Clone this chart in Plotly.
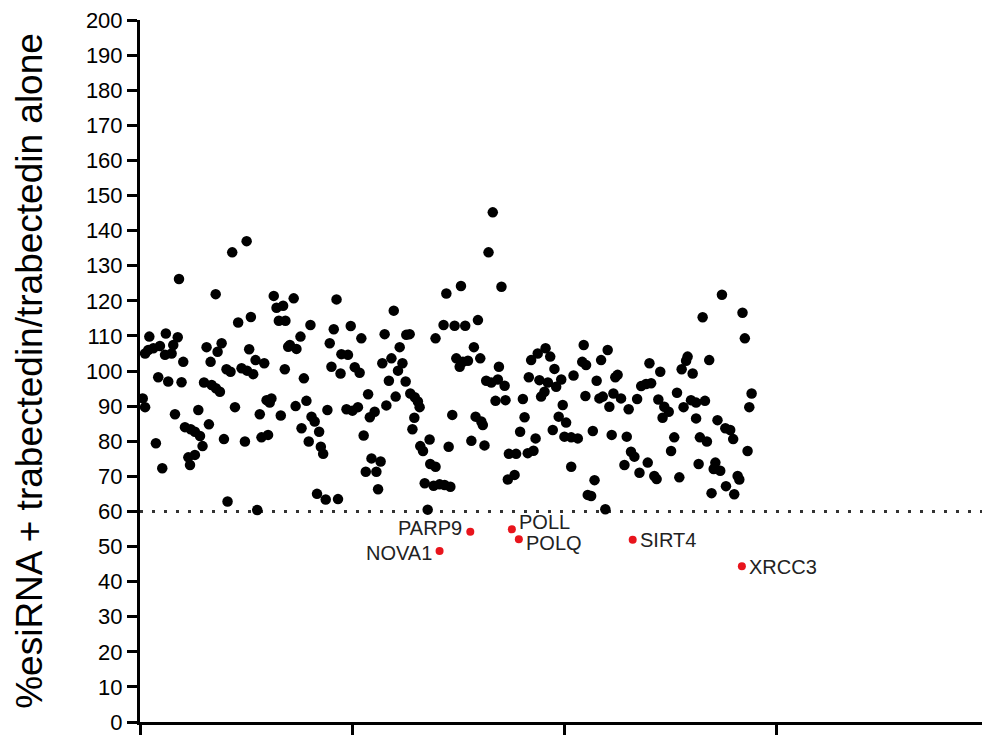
import plotly.graph_objects as go

# ---- data (gene index vs. % esiRNA + trabectedin / trabectedin alone) ----
x_vals = [
    50.3, 43.5, 18.4, 35.7, 63.1, 64.4, 67.5, 52.3, 46.3, 65.5, 68.6, 12.2, 4.4, 17.8, 3.9, 6.3,
    9.4, 2.4, 11.8, 14.9, 15.7, 20.4, 31.4, 38.5, 36.6, 33.3, 51.5, 54.5, 58.6, 69.9, 40.8, 42.7,
    47.9, 50.5, 53.4, 68.3, 8.6, 13.3, 19.6, 30.2, 33.8, 35.8, 37.7, 59.7, 62.0, 61.2, 1.3, 2.4,
    44.8, 27.5, 16.5, 56.5, 66.4, 32.5, 21.2, 23.9, 25.9, 28.3, 57.3, 60.4, 39.6, 49.5, 7.5, 29.5,
    22.8, 25.9, 23.6, 10.5, 41.3, 55.3, 72.5, 92.7, 119.7, 80.4, 91.4, 99.4, 115.4, 125.6, 127.2,
    139.4, 75.7, 104.4, 89.5, 70.7, 73.8, 122.5, 95.0, 98.1, 118.6, 114.3, 123.8, 121.7, 90.3, 94.6,
    101.3, 103.6, 77.3, 117.4, 125.3, 107.6, 120.6, 127.5, 129.6, 131.1, 131.9, 78.5, 73.4, 116.2,
    97.4, 100.2, 102.8, 88.4, 110.7, 108.4, 80.9, 82.4, 84.5, 76.2, 129.4, 128.5, 105.5, 136.6,
    79.6, 85.3, 86.4, 132.2, 133.5, 109.2, 113.5, 106.5, 111.5, 136.9, 139.4, 134.3, 138.5, 112.3,
    83.5, 87.6, 93.4, 135.7, 166.4, 164.4, 151.4, 144.5, 170.5, 159.4, 143.2, 148.4, 153.4, 157.5,
    149.2, 150.8, 152.3, 154.7, 160.5, 169.3, 163.3, 165.7, 168.8, 172.0, 167.7, 172.4, 180.6,
    184.5, 187.6, 191.3, 193.5, 209.3, 195.5, 183.4, 188.4, 192.4, 196.3, 198.7, 204.5, 190.8,
    189.2, 208.6, 210.4, 210.1, 199.4, 147.3, 181.4, 158.3, 161.0, 161.7, 197.5, 201.0, 194.7,
    179.3, 200.2, 203.4, 206.5, 186.6, 156.3, 162.5, 145.6, 174.0, 177.4, 182.9, 185.6, 203.4,
    173.5, 176.7, 141.3, 143.7, 146.4, 211.2, 274.5, 284.2, 265.4, 285.3, 220.6, 217.5, 258.3,
    257.6, 268.5, 240.3, 245.4, 255.5, 260.7, 225.3, 224.2, 215.4, 236.4, 238.7, 241.1, 253.3,
    288.5, 216.7, 218.3, 223.3, 226.9, 221.4, 230.5, 234.5, 244.5, 247.3, 249.4, 246.5, 256.4,
    259.9, 262.3, 266.5, 287.4, 262.3, 272.4, 276.1, 278.4, 279.8, 213.6, 222.5, 229.6, 252.0,
    264.1, 267.4, 250.5, 231.6, 233.2, 286.6, 228.5, 239.5, 235.6, 263.5, 271.4, 270.6, 273.7,
    242.6, 243.7, 254.4, 281.9, 282.7, 276.4, 214.4, 212.8, 269.6, 280.3, 219.5,
]
y_vals = [
    137.0, 133.8, 126.2, 121.9, 121.4, 118.0, 118.6, 115.4, 113.8, 114.3, 114.3, 110.7, 109.8, 109.6,
    106.0, 106.5, 107.1, 105.0, 104.6, 105.0, 107.4, 102.6, 106.8, 107.9, 105.5, 102.6, 106.2, 103.1,
    102.2, 106.9, 100.5, 99.8, 100.8, 100.1, 99.1, 100.5, 98.2, 97.0, 96.8, 96.7, 96.0, 95.1, 94.1,
    91.7, 92.2, 91.0, 92.2, 89.7, 89.7, 88.9, 87.7, 87.7, 87.3, 84.8, 84.0, 83.4, 82.7, 81.5, 81.1,
    81.8, 80.6, 79.9, 79.4, 78.6, 75.4, 76.1, 73.2, 72.3, 62.8, 60.4, 120.7, 120.4, 117.2, 113.1,
    111.9, 112.8, 110.5, 110.3, 110.5, 109.3, 109.8, 109.3, 107.9, 107.4, 106.3, 106.8, 104.8, 104.6,
    103.6, 102.2, 102.2, 100.1, 101.2, 99.3, 101.1, 99.5, 97.9, 97.2, 97.0, 93.4, 92.7, 93.6, 92.5,
    91.3, 89.7, 91.5, 90.0, 90.2, 89.1, 88.7, 89.7, 88.9, 88.4, 86.8, 87.0, 85.6, 82.7, 83.7, 86.7,
    83.4, 81.6, 80.5, 79.9, 78.4, 76.4, 78.6, 77.2, 75.1, 74.2, 71.3, 71.3, 73.5, 72.7, 68.0, 67.3,
    66.3, 65.0, 63.4, 63.5, 60.5, 145.2, 133.8, 124.2, 122.1, 124.0, 114.5, 113.1, 112.9, 112.9,
    106.8, 103.6, 101.2, 102.6, 102.9, 103.6, 101.2, 97.2, 96.7, 97.6, 95.8, 91.5, 91.7, 92.0, 103.1,
    105.0, 106.5, 104.1, 107.4, 100.6, 98.2, 97.4, 96.7, 95.5, 97.6, 98.7, 94.1, 92.7, 102.6, 101.7,
    92.9, 90.3, 87.5, 86.8, 87.0, 85.6, 84.6, 87.0, 85.3, 83.2, 82.7, 81.3, 81.1, 80.8, 80.8, 80.1,
    78.8, 78.4, 76.4, 76.4, 76.6, 77.3, 72.7, 69.1, 70.4, 67.7, 67.5, 67.0, 64.7, 121.7, 116.6,
    115.3, 109.3, 106.0, 103.1, 104.1, 102.9, 103.1, 102.2, 99.8, 100.5, 99.3, 98.9, 98.2, 97.2,
    95.7, 96.3, 96.5, 93.8, 93.6, 92.2, 92.7, 93.6, 92.2, 89.8, 89.1, 92.0, 91.9, 89.8, 88.4, 86.7,
    89.7, 91.7, 91.0, 91.5, 89.7, 86.5, 86.0, 83.7, 83.2, 80.6, 82.9, 81.8, 81.3, 81.1, 81.1, 79.9,
    77.2, 77.0, 75.6, 77.2, 73.2, 73.9, 71.0, 73.5, 73.9, 72.1, 71.6, 70.1, 69.2, 69.7, 70.1, 69.1,
    67.2, 68.9, 64.4, 65.2, 64.9, 60.6,
]

# highlighted hits below the threshold
hit_genes = ["NOVA1", "PARP9", "POLL", "POLQ", "SIRT4", "XRCC3"]
hit_x = [141.3, 155.8, 175.4, 178.7, 232.4, 283.9]
hit_y = [48.7, 54.2, 54.9, 52.1, 51.9, 44.4]
hit_label_side = ["left", "left", "right", "right", "right", "right"]
hit_label_dy = [-2, 4, 7, -4, 0, -1]

THRESHOLD = 60
y_ticks = list(range(0, 201, 10))
x_ticks = [0, 100, 200, 300, 400]

fig = go.Figure()
fig.add_trace(go.Scatter(
    x=x_vals, y=y_vals, mode="markers",
    marker=dict(color="black", size=10.5, line=dict(width=0)),
    showlegend=False, hoverinfo="x+y",
))
fig.add_trace(go.Scatter(
    x=hit_x, y=hit_y, mode="markers",
    marker=dict(color="#e8141c", size=8, line=dict(width=0)),
    text=hit_genes, showlegend=False, hoverinfo="text+y",
))

for g, xx, yy, side, dy in zip(hit_genes, hit_x, hit_y, hit_label_side, hit_label_dy):
    fig.add_annotation(
        x=xx, y=yy, text=g, showarrow=False,
        xanchor="right" if side == "left" else "left",
        xshift=-6 if side == "left" else 5, yshift=dy,
        font=dict(family="Liberation Sans, Arial", size=20, color="#222222"),
    )

fig.add_shape(
    type="line", xref="x", yref="y", x0=x_ticks[0], x1=x_ticks[-1], y0=THRESHOLD, y1=THRESHOLD,
    line=dict(color="#333333", width=3, dash="3px,9px"), layer="below",
)

# the page body has an 8px margin, so margins are offset to land the plot at the same place
fig.update_layout(
    width=990, height=738,
    margin=dict(l=132, r=10, t=12, b=24),
    plot_bgcolor="white", paper_bgcolor="white",
    font=dict(family="Liberation Sans, Arial", color="black"),
    xaxis=dict(
        range=[x_ticks[0], x_ticks[-1]], tickvals=x_ticks, showticklabels=False,
        ticks="outside", ticklen=10, tickwidth=3, tickcolor="black",
        showline=True, linewidth=3, linecolor="black", showgrid=False, zeroline=False,
    ),
    yaxis=dict(
        range=[0, 200], tickvals=y_ticks, ticktext=[str(v) for v in y_ticks],
        ticks="outside", ticklen=10, tickwidth=3, tickcolor="black",
        tickfont=dict(size=22, color="black"), ticklabeloverflow="allow",
        showline=True, linewidth=3, linecolor="black", showgrid=False, zeroline=False,
        title=dict(text="%esiRNA + trabectedin/trabectedin alone",
                   font=dict(size=37, color="black"), standoff=32),
        automargin=False,
    ),
)

fig.write_html("out.html")
